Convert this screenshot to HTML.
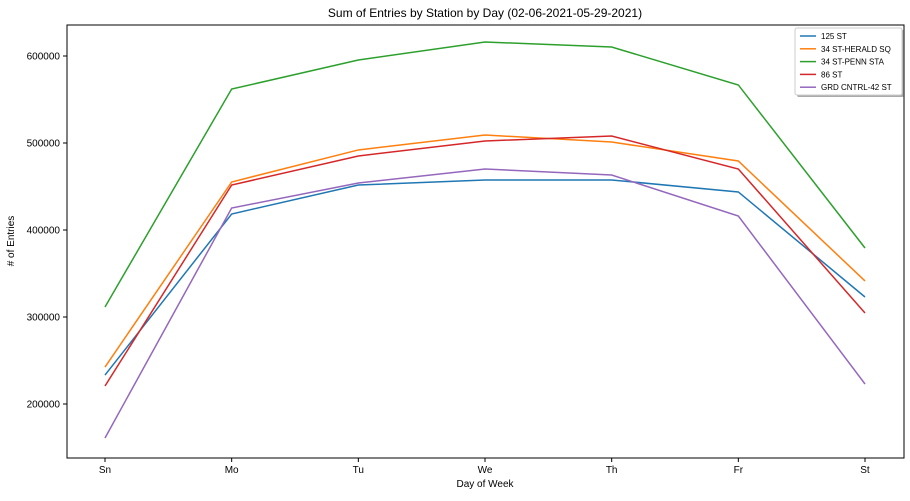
<!DOCTYPE html>
<html><head><meta charset="utf-8"><style>
body{margin:0;background:#fff;}
svg{font-family:"Liberation Sans","DejaVu Sans",sans-serif;}
</style></head><body>
<svg id="chart" width="910" height="496">
<text x="485" y="17" text-anchor="middle" font-size="12">Sum of Entries by Station by Day (02-06-2021-05-29-2021)</text>
<text x="485" y="487" text-anchor="middle" font-size="10">Day of Week</text>
<text transform="translate(14,241) rotate(-90)" text-anchor="middle" font-size="10"># of Entries</text>
<g id="axes"></g><g id="series"></g><g id="legend"></g>
</svg>
<script>
const categories=["Sn","Mo","Tu","We","Th","Fr","St"];
const yTicks=[200000,300000,400000,500000,600000];
const seriesNames=["125 ST","34 ST-HERALD SQ","34 ST-PENN STA","86 ST","GRD CNTRL-42 ST"];
const colors=["#1f77b4","#ff7f0e","#2ca02c","#d62728","#9467bd"];
const s125=[233300,418400,451700,457500,457500,443700,323000];
const sHerald=[242500,455200,492000,509200,501100,479300,341400];
const sPenn=[311500,562000,595400,616100,610300,566700,379300];
const s86=[220700,451700,485100,502300,508000,470100,304600];
const sGrd=[160900,425300,454000,470100,463200,416100,223000];
const allSeries=[s125,sHerald,sPenn,s86,sGrd];
const L=67,R=904,T=25,B=458;
const ns="http://www.w3.org/2000/svg";
function xS(i){return 105+i*(865-105)/(categories.length-1);}
function yS(v){return 404-(v-200000)*0.00087;}
function mk(t,a,p){const e=document.createElementNS(ns,t);for(const k in a)e.setAttribute(k,a[k]);p.appendChild(e);return e;}
const ax=document.getElementById('axes');
const frame=mk('rect',{x:L,y:T,width:R-L,height:B-T,fill:'none',stroke:'#000','stroke-width':1},ax);


categories.forEach((c,i)=>{
 mk('line',{x1:xS(i),x2:xS(i),y1:B,y2:B+4,stroke:'#000'},ax);
 const t=mk('text',{x:xS(i),y:B+15,'text-anchor':'middle','font-size':10},ax);t.textContent=c;
 
 
});
yTicks.forEach(v=>{
 mk('line',{x1:L-4,x2:L,y1:yS(v),y2:yS(v),stroke:'#000'},ax);
 const t=mk('text',{x:L-7,y:yS(v)+3.5,'text-anchor':'end','font-size':10},ax);t.textContent=v;
 
 
});
const sg=document.getElementById('series');
allSeries.forEach((s,k)=>{
 const p=mk('polyline',{points:s.map((v,i)=>xS(i)+','+yS(v)).join(' '),fill:'none',stroke:colors[k],'stroke-width':1.5},sg);
 
 
});
const lg=document.getElementById('legend');
mk('rect',{x:797,y:30,width:107,height:67,fill:'#555',opacity:0.5,rx:2},lg);
const box=mk('rect',{x:795,y:28,width:107,height:67,fill:'#fff',stroke:'#ccc',rx:2},lg);


seriesNames.forEach((n,k)=>{
 const y=36+k*12.8;
 mk('line',{x1:800,x2:816,y1:y,y2:y,stroke:colors[k],'stroke-width':1.5},lg);
 const t=mk('text',{x:821,y:y+3,'font-size':8},lg);t.textContent=n;
 
 
});
</script>
</body></html>
